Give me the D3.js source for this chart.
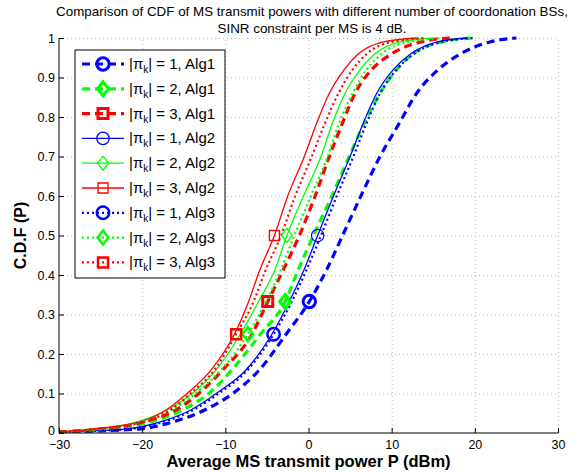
<!DOCTYPE html>
<html><head><meta charset="utf-8">
<script src="https://cdn.jsdelivr.net/npm/d3@7"></script>
<style>
body{margin:0;background:#fff}
text{font-family:"Liberation Sans",Arial,Helvetica,sans-serif}
</style>
</head><body>
<svg id="chart" width="585" height="472"></svg>
<script>
// ---- data ----
const titleLines = ["Comparison of CDF of MS transmit powers with different number of coordonation BSs,",
                    "SINR constraint per MS is 4 dB."];
const xLabel = "Average MS transmit power P (dBm)";
const yLabel = "C.D.F (P)";
const xTicks = [-30, -20, -10, 0, 10, 20, 30];
const yTicks = [0, 0.1, 0.2, 0.3, 0.4, 0.5, 0.6, 0.7, 0.8, 0.9, 1];
// CDF levels shared by every curve
const cdfLevels = [0.003, 0.01, 0.03, 0.06, 0.1, 0.16, 0.25, 0.333, 0.41, 0.5, 0.6, 0.7, 0.78, 0.86, 0.92, 0.96, 0.99, 1];
// transmit power (dBm) reached at each CDF level
const alg1_k1 = [-30, -20.5, -16.0, -12.3, -9.1, -5.9, -2.7, 0.1, 2.1, 4.1, 6.3, 8.6, 10.8, 13.0, 15.6, 18.3, 21.8, 25];
const alg1_k2 = [-30, -24.0, -18.7, -15.0, -12.0, -9.2, -5.8, -2.8, -1.3, 0.6, 2.8, 4.9, 6.6, 8.6, 10.6, 12.6, 16.0, 20];
const alg1_k3 = [-30, -25.0, -19.5, -15.8, -13.2, -10.3, -6.8, -4.9, -3.1, -1.1, 0.8, 2.5, 4.0, 5.6, 7.6, 10.0, 13.5, 17];
const alg2_k1 = [-30, -22.0, -17.5, -14.0, -11.1, -7.5, -4.4, -2.3, -0.6, 1.1, 3.0, 5.0, 6.5, 8.2, 10.2, 12.3, 15.5, 19];
const alg2_k2 = [-30, -25.0, -20.3, -16.8, -14.0, -11.1, -8.2, -6.0, -4.1, -2.6, -0.6, 1.5, 2.8, 4.4, 6.2, 8.0, 11.0, 15];
const alg2_k3 = [-30, -26.0, -20.0, -17.0, -14.6, -11.7, -8.9, -7.2, -5.9, -4.1, -2.5, -0.5, 0.9, 2.5, 4.3, 6.0, 9.0, 13];
const alg3_k1 = [-30, -21.7, -17.2, -13.7, -10.8, -7.3, -4.2, -2.0, -0.3, 1.5, 3.4, 5.4, 6.9, 8.6, 10.6, 12.7, 16.0, 20];
const alg3_k2 = [-30, -24.5, -19.8, -16.3, -13.6, -10.5, -7.3, -5.1, -3.4, -1.7, 0.3, 2.3, 3.6, 5.3, 7.0, 8.8, 12.0, 16];
const alg3_k3 = [-30, -25.5, -19.5, -16.5, -14.2, -11.3, -8.7, -6.6, -5.2, -3.3, -1.6, 0.4, 1.9, 3.6, 5.3, 7.0, 10.0, 14];
// CDF level at which each algorithm's marker is drawn
const markerLevelAlg1 = 0.333, markerLevelAlg2 = 0.5, markerLevelAlg3 = 0.25;
const clusterSizes = [1, 2, 3];
const algNames = ["Alg1", "Alg2", "Alg3"];

// ---- styles ----
const colors = {1: "#0000ff", 2: "#00ff00", 3: "#ff0000"};
const shapes = {1: "circle", 2: "diamond", 3: "square"};
const algStyle = {
  Alg1: {width: 3.2, dash: "8,5", mw: 3},
  Alg2: {width: 1.3, dash: null, mw: 1.3},
  Alg3: {width: 2.2, dash: "2,3", mw: 2.5}
};

const series = [
  {alg: "Alg1", k: 1, p: alg1_k1, m: markerLevelAlg1},
  {alg: "Alg1", k: 2, p: alg1_k2, m: markerLevelAlg1},
  {alg: "Alg1", k: 3, p: alg1_k3, m: markerLevelAlg1},
  {alg: "Alg2", k: 1, p: alg2_k1, m: markerLevelAlg2},
  {alg: "Alg2", k: 2, p: alg2_k2, m: markerLevelAlg2},
  {alg: "Alg2", k: 3, p: alg2_k3, m: markerLevelAlg2},
  {alg: "Alg3", k: 1, p: alg3_k1, m: markerLevelAlg3},
  {alg: "Alg3", k: 2, p: alg3_k2, m: markerLevelAlg3},
  {alg: "Alg3", k: 3, p: alg3_k3, m: markerLevelAlg3}
];

const svg = d3.select("#chart");
const L = 59, R = 558, T = 38, B = 433;
const x = d3.scaleLinear().domain([-30, 30]).range([L, R]);
const y = d3.scaleLinear().domain([0, 1]).range([B, T]);

svg.append("rect").attr("width", 585).attr("height", 472).attr("fill", "#fff");

// grid
const gx = svg.append("g").attr("transform", `translate(0,${B})`)
  .call(d3.axisBottom(x).tickValues(xTicks.slice(1)).tickSize(-(B - T)).tickFormat(""));
gx.select(".domain").remove();
gx.selectAll("line").attr("stroke", "#b8b8b8").attr("stroke-dasharray", "1,3");
const gy = svg.append("g").attr("transform", `translate(${L},0)`)
  .call(d3.axisLeft(y).tickValues(yTicks.slice(1)).tickSize(-(R - L)).tickFormat(""));
gy.select(".domain").remove();
gy.selectAll("line").attr("stroke", "#b8b8b8").attr("stroke-dasharray", "1,3");

// curves
svg.append("clipPath").attr("id", "clip").append("rect")
  .attr("x", L).attr("y", T - 3).attr("width", R - L).attr("height", B - T + 3);
const line = d3.line().x(d => x(d[0])).y(d => y(d[1])).curve(d3.curveMonotoneX);
const plot = svg.append("g").attr("clip-path", "url(#clip)");

function markerPath(shape) {
  if (shape === "circle") return d3.symbol().type(d3.symbolCircle).size(Math.PI * 6.2 * 6.2)();
  if (shape === "square") return "M-5,-5H5V5H-5Z";
  return "M0,-7L5.5,0L0,7L-5.5,0Z";
}

series.forEach(s => {
  const pts = cdfLevels.map((c, i) => [s.p[i], c]);
  const st = algStyle[s.alg];
  plot.append("path").attr("d", line(pts)).attr("fill", "none")
    .attr("stroke", colors[s.k]).attr("stroke-width", st.width)
    .attr("stroke-dasharray", st.dash);
});
series.forEach(s => {
  const st = algStyle[s.alg];
  const i = cdfLevels.indexOf(s.m);
  plot.append("path").attr("d", markerPath(shapes[s.k]))
    .attr("transform", `translate(${x(s.p[i])},${y(cdfLevels[i])})`)
    .attr("fill", "none").attr("stroke", colors[s.k]).attr("stroke-width", st.mw);
});

// axes
const ax = svg.append("g").attr("transform", `translate(0,${B})`)
  .call(d3.axisBottom(x).tickValues(xTicks).tickSize(-5).tickPadding(7).tickFormat(d => d < 0 ? "\u2212" + Math.abs(d) : d));
ax.select(".domain").attr("d", `M${L},0H${R}`).attr("stroke", "#000");
ax.selectAll("text").attr("font-size", 12.5).attr("fill", "#000").style("font-family", "Liberation Sans, Arial, sans-serif");
const ay = svg.append("g").attr("transform", `translate(${L},0)`)
  .call(d3.axisLeft(y).tickValues(yTicks).tickSize(-5).tickPadding(4).tickFormat(d => d === 0 || d === 1 ? d : d3.format(".1f")(d)));
ay.select(".domain").attr("d", `M0,${B}V${T}`).attr("stroke", "#000");
ay.selectAll("text").attr("font-size", 12.5).attr("fill", "#000").style("font-family", "Liberation Sans, Arial, sans-serif");
ay.selectAll(".tick").filter(d => d === 0).select("text").attr("dy", "0.1em");

// title and labels
titleLines.forEach((t, i) => {
  svg.append("text").attr("x", 312).attr("y", 16 + i * 17).attr("text-anchor", "middle")
    .attr("font-size", 13.4).text(t);
});
svg.append("text").attr("x", (L + R) / 2).attr("y", 467).attr("text-anchor", "middle")
  .attr("font-size", 16.5).attr("font-weight", "bold").text(xLabel);
svg.append("text").attr("transform", `translate(26,${(T + B) / 2}) rotate(-90)`)
  .attr("text-anchor", "middle").attr("font-size", 16).attr("font-weight", "bold").text(yLabel);

// legend
const lg = svg.append("g");
lg.append("rect").attr("x", 75).attr("y", 50).attr("width", 150).attr("height", 228)
  .attr("fill", "#fff").attr("stroke", "#000").attr("stroke-width", 1);
series.forEach((s, i) => {
  const yy = 64 + i * 24.8;
  const st = algStyle[s.alg];
  lg.append("line").attr("x1", 82).attr("x2", 124).attr("y1", yy).attr("y2", yy)
    .attr("stroke", colors[s.k]).attr("stroke-width", st.width).attr("stroke-dasharray", st.dash);
  lg.append("path").attr("d", markerPath(shapes[s.k])).attr("transform", `translate(103,${yy})`)
    .attr("fill", "none").attr("stroke", colors[s.k]).attr("stroke-width", st.mw);
  const t = lg.append("text").attr("x", 129).attr("y", yy + 5).attr("font-size", 15);
  t.append("tspan").text("|\u03c0");
  t.append("tspan").attr("dy", 4).attr("font-size", 10).text("k");
  t.append("tspan").attr("dy", -4).text(`| = ${s.k}, ${s.alg}`);
});
</script>
</body></html>
